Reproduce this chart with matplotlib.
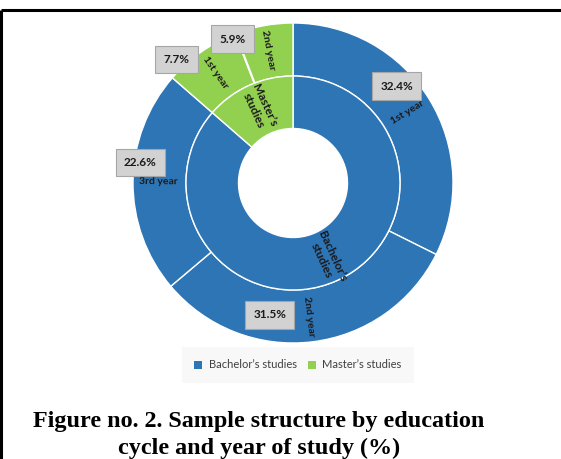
import numpy as np
import matplotlib
matplotlib.use("Agg")
import matplotlib.pyplot as plt

# inner ring: education cycle
cycles = ["Bachelor\u2019s studies", "Master\u2019s studies"]
cycle_labels = ["Bachelor\u2019s\nstudies", "Master\u2019s\nstudies"]
cycle_values = [86.5, 13.6]

# outer ring: year of study within each cycle
years = ["1st year", "2nd year", "3rd year", "1st year", "2nd year"]
year_values = [32.4, 31.5, 22.6, 7.7, 5.9]
year_cycle = [0, 0, 0, 1, 1]

BLUE = "#2e75b6"
GREEN = "#92d050"
cycle_colors = [BLUE, GREEN]

W, H = 561, 459
fig = plt.figure(figsize=(W / 100, H / 100), dpi=100)
ax = fig.add_axes([0, 0, 1, 1])

cx, cy = 293, H - 183
r_out, r_mid, r_hole = 160, 107, 54.5

wedge_kw = dict(edgecolor="white", linewidth=1)
outer, _ = ax.pie(year_values, radius=r_out, center=(cx, cy), startangle=90,
                  counterclock=False,
                  colors=[cycle_colors[c] for c in year_cycle],
                  wedgeprops=dict(width=r_out - r_mid, **wedge_kw))
inner, _ = ax.pie(cycle_values, radius=r_mid, center=(cx, cy), startangle=90,
                  counterclock=False, colors=cycle_colors,
                  wedgeprops=dict(width=r_mid - r_hole, **wedge_kw))
ax.set_xlim(0, W)
ax.set_ylim(0, H)
ax.set_aspect("equal")
ax.axis("off")


def mid_angles(vals):
    vals = np.asarray(vals, dtype=float)
    frac = (np.cumsum(vals) - vals / 2) / vals.sum()
    return 90 - 360 * frac


def radial_rot(a):
    a = (a + 180) % 360 - 180
    if a > 90:
        a -= 180
    elif a < -90:
        a += 180
    return a


lab_font = dict(family="Lato", fontweight="bold", color="#1a1a1a",
                ha="center", va="center", rotation_mode="anchor")

for name, a in zip(years, mid_angles(year_values)):
    r = (r_out + r_mid) / 2 + 1.5
    t = np.radians(a)
    ax.text(cx + r * np.cos(t), cy + r * np.sin(t), name, fontsize=7.5,
            rotation=radial_rot(a), **lab_font)

for name, a in zip(cycle_labels, mid_angles(cycle_values)):
    r = (r_mid + r_hole) / 2 + 2
    t = np.radians(a)
    ax.text(cx + r * np.cos(t), cy + r * np.sin(t), name, fontsize=8.5,
            rotation=radial_rot(a), linespacing=1.1, **lab_font)

# value boxes, placed as (angle in degrees, distance from centre)
box_place = [(43, 142), (-100, 134), (172.4, 154), (133.3, 170), (112.7, 156)]
for v, (a, r) in zip(year_values, box_place):
    t = np.radians(a)
    ax.text(cx + r * np.cos(t), cy + r * np.sin(t), f"{v}%",
            family="Lato", fontsize=8.5, fontweight="bold", color="#1a1a1a",
            ha="center", va="center", zorder=5,
            bbox=dict(boxstyle="square,pad=0.7", facecolor="#d2d2d2",
                      edgecolor="#a6a6a6", linewidth=0.8))

# leader line for the small master's slice
ax.plot([243, 255], [H - 52, H - 83], color="white", lw=0.9, zorder=4)

leg = ax.legend(inner, cycles, loc="center", bbox_to_anchor=(298 / W, 1 - 365 / H),
                ncol=2, frameon=True, handlelength=0.7, handleheight=0.7,
                handletextpad=0.6, columnspacing=1.0, borderpad=0.8,
                prop=dict(family="Lato", size=8))
leg.get_frame().set_facecolor("#f7f7f7")
leg.get_frame().set_edgecolor("none")
leg.get_frame().set_boxstyle("square")
for t in leg.get_texts():
    t.set_color("#404040")
for h in leg.legend_handles:
    h.set_edgecolor("none")

cap_font = dict(family="Liberation Serif", fontsize=17.4, fontweight="bold",
                color="black", ha="center", va="baseline")
ax.text(259, H - 427, "Figure no. 2. Sample structure by education", **cap_font)
ax.text(259, H - 454, "cycle and year of study (%)", **cap_font)

# page frame
ax.plot([1.5, W], [H - 10, H - 10], color="black", lw=2.2, solid_capstyle="butt")
ax.plot([1.5, 1.5], [H - 10, 0], color="black", lw=2.2, solid_capstyle="butt")

fig.savefig("out.png", dpi=100, facecolor="white")
